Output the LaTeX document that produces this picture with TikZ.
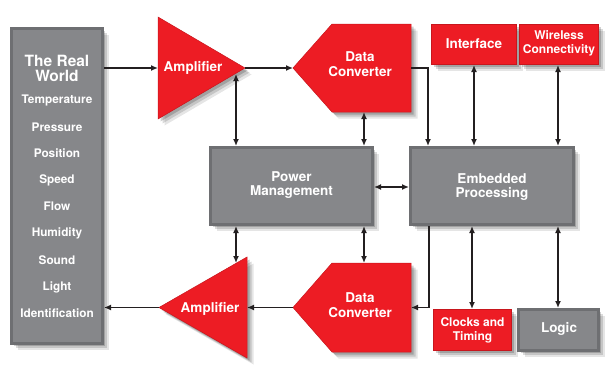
\documentclass[tikz,border=0pt]{standalone}
\usepackage{fontspec}
\setmainfont{TeX Gyre Heros}
\usetikzlibrary{arrows.meta,shadows}
\definecolor{adired}{HTML}{ED1C24}
\definecolor{rededge}{HTML}{C8161D}
\definecolor{grayfill}{HTML}{86878A}
\definecolor{grayedge}{HTML}{6E6F72}
\definecolor{arrowcol}{HTML}{231F20}
\tikzset{
  myshadow/.style={
    drop shadow={shadow xshift=6.5pt,shadow yshift=-6.5pt,opacity=0.10,fill=black},
    drop shadow={shadow xshift=4.5pt,shadow yshift=-4.5pt,opacity=0.14,fill=black},
    drop shadow={shadow xshift=2.5pt,shadow yshift=-2.5pt,opacity=0.18,fill=black}},
  graybox/.style={draw=grayedge,line width=2.6pt,fill=grayfill,inner sep=0pt,myshadow},
  redbox/.style={draw=rededge,line width=0.8pt,fill=adired,inner sep=0pt,myshadow},
  redshape/.style={fill=adired,draw=rededge,line width=0.5pt,line join=miter,myshadow},
  lbl/.style={text=white,font=\bfseries\fontsize{13.5}{14.5}\selectfont,align=center,inner sep=0pt},
  biglbl/.style={text=white,font=\bfseries\fontsize{15.5}{15}\selectfont,align=center,inner sep=0pt},
  smlbl/.style={text=white,font=\bfseries\fontsize{12}{14}\selectfont,align=center,inner sep=0pt},
  listlbl/.style={text=white,font=\bfseries\fontsize{11.8}{13}\selectfont,inner sep=0pt},
  arr/.style={draw=arrowcol,line width=1.3pt,-{Latex[length=7pt,width=6pt]}},
  darr/.style={draw=arrowcol,line width=1.3pt,{Latex[length=7pt,width=6pt]}-{Latex[length=7pt,width=6pt]}},
}
\begin{document}
\begin{tikzpicture}[x=1pt,y=-1pt]
\useasboundingbox (0,0) rectangle (614,372);

% Real world box
\node[graybox,minimum width=91.4pt,minimum height=315.4pt] (rw) at (57,186) {};
\node[biglbl] (rwt) at (57,68.5) {The Real\\World};
\node[listlbl] (l1) at (57,100) {Temperature};
\node[listlbl] (l2) at (57,127) {Pressure};
\node[listlbl] (l3) at (57,153) {Position};
\node[listlbl] (l4) at (57,180) {Speed};
\node[listlbl] (l5) at (57,206.5) {Flow};
\node[listlbl] (l6) at (57,233) {Humidity};
\node[listlbl] (l7) at (57,260) {Sound};
\node[listlbl] (l8) at (57,287) {Light};
\node[listlbl] (l9) at (57,313) {Identification};

% Power management & embedded processing
\node[graybox,minimum width=162.4pt,minimum height=77.4pt] (pm) at (291.5,186) {};
\node[lbl] (pmt) at (291.5,185) {Power\\Management};
\node[graybox,minimum width=163.4pt,minimum height=77.4pt] (ep) at (492,186) {};
\node[lbl] (ept) at (492,187) {Embedded\\Processing};

% Interface / wireless
\node[redbox,minimum width=85.2pt,minimum height=40.2pt] (if) at (474,44.5) {};
\node[lbl] (ift) at (474,44) {Interface};
\node[redbox,minimum width=79.2pt,minimum height=40.2pt] (wl) at (559,44.5) {};
\node[smlbl] (wlt) at (559,43.5) {Wireless\\Connectivity};

% Clocks / logic
\node[redbox,minimum width=78.2pt,minimum height=41.2pt] (ck) at (472.5,330) {};
\node[smlbl] (ckt) at (472.5,330) {Clocks and\\Timing};
\node[graybox,minimum width=80.4pt,minimum height=41.4pt] (lg) at (558.5,330) {};
\node[lbl] (lgt) at (559,329) {Logic};

% Top amplifier
\path[redshape] (158,17) -- (245,68) -- (158,119) -- cycle;
\coordinate (a1in) at (158,68);
\coordinate (a1out) at (245,68);
\coordinate (a1pm) at (236,74);
\node[lbl] (a1t) at (193,68) {Amplifier};

% Bottom amplifier
\path[redshape] (247,257) -- (247,358) -- (159,307.5) -- cycle;
\coordinate (a2in) at (247,307.5);
\coordinate (a2out) at (159,307.5);
\coordinate (a2pm) at (236,263);
\node[lbl] (a2t) at (210,308.5) {Amplifier};

% Top data converter
\path[redshape] (293,68) -- (332,24) -- (411,24) -- (411,112) -- (332,112) -- cycle;
\coordinate (d1in) at (293,68);
\coordinate (d1out) at (411,68);
\coordinate (d1pm) at (364,112);
\node[lbl] (d1t) at (360,64) {Data\\Converter};

% Bottom data converter
\path[redshape] (293,307.5) -- (332,263) -- (411,263) -- (411,352) -- (332,352) -- cycle;
\coordinate (d2out) at (293,307.5);
\coordinate (d2in) at (411,307.5);
\coordinate (d2pm) at (364,263);
\node[lbl] (d2t) at (360,305) {Data\\Converter};

% Connectors
\draw[arr] (rw.east|-a1in) -- (a1in);
\draw[arr] (a1out) -- (d1in);
\draw[darr] (a1pm) -- (a1pm|-pm.north);
\draw[darr] (d1pm) -- (d1pm|-pm.north);
\draw[arr] (d1out) -- (428,68) -- (428,0|-ep.north);
\draw[darr] (if.south) -- (if.south|-ep.north);
\draw[darr] (wl.south-|558,0) -- (558,0|-ep.north);
\draw[darr] (pm.east|-0,187) -- (ep.west|-0,187);
\draw[darr] (a2pm|-pm.south) -- (a2pm);
\draw[darr] (d2pm|-pm.south) -- (d2pm);
\draw[arr] (429,0|-ep.south) -- (429,307.5) -- (d2in);
\draw[darr] (472,0|-ep.south) -- (472,0|-ck.north);
\draw[darr] (558,0|-ep.south) -- (558,0|-lg.north);
\draw[arr] (d2out) -- (a2in);
\draw[arr] (a2out) -- (rw.east|-a2out);
\end{tikzpicture}
\end{document}
